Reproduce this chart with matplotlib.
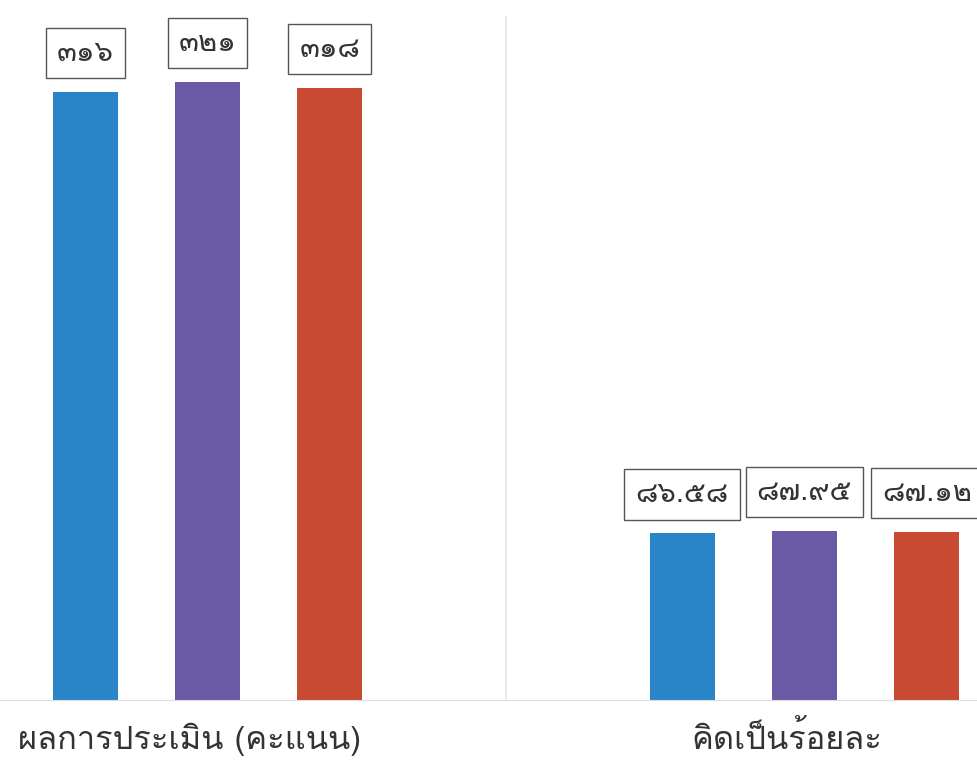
import matplotlib
matplotlib.use("Agg")
import matplotlib.pyplot as plt
import matplotlib.transforms as mtransforms
from matplotlib import font_manager
from matplotlib.ft2font import FT2Font
import numpy as np

# ---- data ----
categories = ["ผลการประเมิน (คะแนน)", "คิดเป็นร้อยละ"]
series_a = [316, 86.58]
series_b = [321, 87.95]
series_c = [318, 87.12]
labels_a = ["๓๑๖", "๘๖.๕๘"]
labels_b = ["๓๒๑", "๘๗.๙๕"]
labels_c = ["๓๑๘", "๘๗.๑๒"]

colors = ["#2a84c8", "#6a5aa6", "#c94a32"]

# find an installed font that covers Thai
thai_family = None
for f in font_manager.fontManager.ttflist:
    try:
        cmap = FT2Font(f.fname).get_charmap()
        if 0x0E51 in cmap and 0x0E1C in cmap:
            thai_family = f.name
            break
    except Exception:
        pass
fams = ([thai_family] if thai_family else []) + ["DejaVu Sans"]
plt.rcParams["font.family"] = fams

fig = plt.figure(figsize=(9.78, 7.77), dpi=100)
ax = fig.add_axes([0, 77 / 777, 1, 700 / 777])

x = np.arange(len(categories))
off = 0.205
w = 0.109
series = [series_a, series_b, series_c]
labs = [labels_a, labels_b, labels_c]
for i, (vals, lab) in enumerate(zip(series, labs)):
    pos = x + (i - 1) * off
    ax.bar(pos, vals, width=w, color=colors[i], zorder=2)
    for p, v, t in zip(pos, vals, lab):
        ax.annotate(t, (p, v), xytext=(0, 28), textcoords="offset points",
                    ha="center", va="center", fontsize=21, color="#333333",
                    bbox=dict(boxstyle="square,pad=0.38", fc="white", ec="#555555", lw=1.0),
                    zorder=3, annotation_clip=False)

ax.set_xlim(-207.5 / 597, (978 - 207.5) / 597)
ax.set_ylim(0, 700 / 1.925)
ax.axvline(0.5, color="#e6e6e6", lw=1.2, zorder=1, ymin=0, ymax=(700 - 17) / 700)
for s in ["top", "right", "left"]:
    ax.spines[s].set_visible(False)
ax.spines["bottom"].set_color("#dddddd")
ax.set_yticks([])
ax.set_xticks(x)
ax.set_xticklabels(categories, fontsize=23.5, color="#333333")
ax.tick_params(axis="x", length=0, pad=16)
shift = mtransforms.ScaledTranslation(-18 / 100, 0, fig.dpi_scale_trans)
for lbl in ax.get_xticklabels():
    lbl.set_transform(lbl.get_transform() + shift)

fig.savefig("out.png", dpi=100)
